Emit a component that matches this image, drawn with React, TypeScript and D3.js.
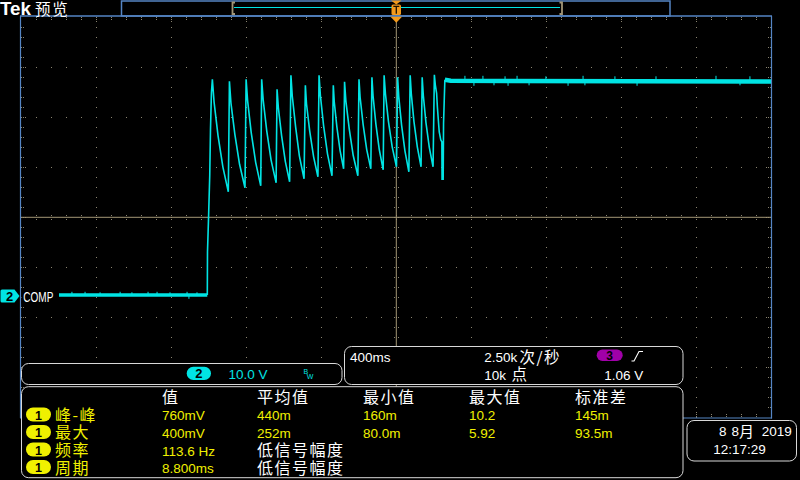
import React from 'react';
import * as d3 from 'd3';

// ---- data (time in ms, channel 2 in volts) ----
const baseline: [number, number][] = [[-1799, 0.46], [-1008, 0.46]];
const baseSpikes: [number, number][] = [
  [-1730, 1.1], [-1660, 1.1], [-1580, 1.0], [-1473, 1.1], [-1410, 1.0], [-1324, 1.1],
  [-1276, 1.1], [-1207, 1.0], [-1116, 1.1], [-1106, -0.3], [-1063, 1.0],
];
const stepEdge: [number, number][] = [
  [-1008, 0.46], [-1007, 9.1], [-1002, 15.1], [-995, 24.3], [-991, 33.5], [-986, 40.9],
];
const sawtooth: [number, number][] = [
  [-981, 43.6], [-972, 39.1], [-951, 32.4], [-925, 26.1], [-896, 21.1],
  [-890, 43.2], [-882, 38.9], [-861, 32.6], [-836, 26.6], [-807, 21.9],
  [-801, 43.6], [-793, 39.3], [-774, 33.0], [-750, 27.0], [-723, 22.3],
  [-718, 43.6], [-710, 39.5], [-691, 33.3], [-668, 27.5], [-641, 22.9],
  [-636, 41.6], [-629, 37.9], [-612, 32.4], [-592, 27.2], [-569, 23.1],
  [-562, 44.4], [-555, 40.3], [-537, 34.1], [-517, 28.3], [-492, 23.7],
  [-485, 42.4], [-479, 38.7], [-462, 33.3], [-441, 28.1], [-418, 24.1],
  [-412, 44.4], [-405, 40.4], [-388, 34.4], [-367, 28.7], [-343, 24.3],
  [-336, 42.4], [-331, 39.1], [-317, 34.1], [-300, 29.4], [-281, 25.7],
  [-276, 43.1], [-269, 39.3], [-251, 33.7], [-230, 28.4], [-205, 24.3],
  [-199, 43.6], [-193, 40.0], [-177, 34.6], [-158, 29.6], [-136, 25.7],
  [-130, 44.0], [-124, 40.3], [-109, 34.7], [-91, 29.6], [-70, 25.5],
  [-65, 44.4], [-58, 40.7], [-42, 35.2], [-22, 30.1], [1, 26.1],
  [7, 44.0], [13, 40.2], [28, 34.5], [46, 29.3], [67, 25.1],
  [74, 44.4], [80, 40.7], [94, 35.2], [112, 30.1], [132, 26.1],
  [138, 44.0], [144, 40.4], [158, 35.0], [176, 30.0], [196, 26.1],
  [203, 44.5], [208, 42.5], [215, 40.8], [219, 38.1], [226, 34.5], [229, 33.1],
  [237, 31.5], [243, 31.1], [244, 23.6], [250, 23.6], [252, 34.8], [259, 43.5],
];
const highLevel: [number, number][] = [[259, 43.5], [290, 43.3], [2000, 43.16]];
const highSpikes: [number, number][] = [
  [366, 44.3], [414, 42.3], [462, 44.3], [521, 42.4], [580, 44.2], [596, 42.3],
  [644, 44.3], [708, 42.4], [798, 44.2], [916, 42.3], [996, 44.3], [1006, 42.4],
  [1166, 44.2], [1284, 42.3], [1385, 44.2], [1705, 44.3], [1833, 42.4], [1886, 44.2],
];

// ---- readouts ----
const measHeaders = ['值', '平均值', '最小值', '最大值', '标准差'];
const measLabels = ['峰-峰', '最大', '频率', '周期'];
const measValues: string[][] = [
  ['760mV', '440m', '160m', '10.2', '145m'],
  ['400mV', '252m', '80.0m', '5.92', '93.5m'],
  ['113.6 Hz', '低信号幅度'],
  ['8.800ms', '低信号幅度'],
];
const chScale = '10.0 V';
const timeScale = '400ms';
const sampleRate = '2.50k';
const recordLen = '10k';
const trigLevel = '1.06 V';
const dateDay = '8';
const dateMonth = '8';
const dateYear = '2019';
const timeOfDay = '12:17:29';

const LAT = "'Liberation Sans', Arial, sans-serif";
const CJK = "'Noto Sans CJK SC', 'Noto Sans CJK JP', sans-serif";
const CYAN = '#00e4e4';
const YEL = '#f0f000';
const BLUE = '#5585c4';
const DOT = '#8a8470';
const TAN = '#a39676';
const PANEL = '#d8d8d8';

const xScale = d3.scaleLinear().domain([-2000, 2000]).range([21.3, 771.3]);
const yScale = d3.scaleLinear().domain([-24, 56]).range([417.3, 17.3]);
const line = d3.line<[number, number]>().x(d => xScale(d[0])).y(d => yScale(d[1]));

const xMinor = d3.range(0, 51).map(i => -2000 + 80 * i);
const yMinor = d3.range(0, 41).map(i => -24 + 2 * i);

function isCJK(s: string) {
  return /[\u3400-\u9fff]/.test(s);
}

function Txt(p: { x: number; y: number; s: string; fill?: string; size?: number; anchor?: string; weight?: string | number; len?: number }) {
  const cjk = isCJK(p.s);
  return (
    <text
      x={p.x}
      y={p.y}
      fill={p.fill || '#fff'}
      fontFamily={cjk ? CJK : LAT}
      fontSize={p.size || (cjk ? 16 : 13.5)}
      letterSpacing={cjk ? 1.5 : 0}
      textAnchor={p.anchor || 'start'}
      fontWeight={p.weight || 'normal'}
      textLength={p.len}
      lengthAdjust={p.len ? 'spacingAndGlyphs' : undefined}
    >
      {p.s}
    </text>
  );
}

export default function App() {
  const dots: JSX.Element[] = [];
  d3.range(1, 10).forEach(i => {
    if (i === 5) return;
    const x = Math.floor(xScale(-2000 + 400 * i));
    yMinor.forEach((v, k) => {
      dots.push(<rect key={`v${i}-${k}`} x={x} y={Math.floor(yScale(v))} width={1} height={1} fill={DOT} />);
    });
  });
  d3.range(1, 8).forEach(j => {
    if (j === 4) return;
    const y = Math.floor(yScale(-24 + 10 * j));
    xMinor.forEach((t, k) => {
      dots.push(<rect key={`h${j}-${k}`} x={Math.floor(xScale(t))} y={y} width={1} height={1} fill={DOT} />);
    });
  });
  xMinor.forEach((t, k) => {
    if (k === 0 || k === 50) return;
    const x = Math.floor(xScale(t));
    const major = k % 5 === 0;
    const offs = major ? [1, 3, 5] : [1, 3];
    offs.forEach(o => {
      dots.push(<rect key={`tt${k}-${o}`} x={x} y={16 + o} width={1} height={1} fill={DOT} />);
      dots.push(<rect key={`tb${k}-${o}`} x={x} y={417 - o} width={1} height={1} fill={DOT} />);
    });
    const cy = Math.floor(yScale(16));
    dots.push(<rect key={`ct${k}`} x={x} y={cy - 2} width={1} height={1} fill={DOT} />);
    dots.push(<rect key={`cb${k}`} x={x} y={cy + 2} width={1} height={1} fill={DOT} />);
  });
  yMinor.forEach((v, k) => {
    if (k === 0 || k === 40) return;
    const y = Math.floor(yScale(v));
    const major = k % 5 === 0;
    const offs = major ? [1, 3, 5] : [1, 3];
    offs.forEach(o => {
      dots.push(<rect key={`tl${k}-${o}`} x={20 + o} y={y} width={1} height={1} fill={DOT} />);
      dots.push(<rect key={`tr${k}-${o}`} x={771 - o} y={y} width={1} height={1} fill={DOT} />);
    });
    const cx = Math.floor(xScale(0));
    dots.push(<rect key={`cl${k}`} x={cx - 2} y={y} width={1} height={1} fill={DOT} />);
    dots.push(<rect key={`cr${k}`} x={cx + 2} y={y} width={1} height={1} fill={DOT} />);
  });

  const colX = [162, 257, 363, 469, 575];
  const rowBase = [420, 437.5, 455.5, 473];
  const pillTop = [407.5, 425, 442.5, 460];
  const cx0 = xScale(0);
  const cy0 = yScale(16);

  return (
    <svg width={800} height={480} style={{ position: 'absolute', left: 0, top: 0, background: '#000' }}>
      <rect x={0} y={0} width={800} height={480} fill="#000" />
      {dots}
      <line x1={cx0} x2={cx0} y1={22} y2={418} stroke={TAN} strokeWidth={1} />
      <line x1={20} x2={771} y1={cy0} y2={cy0} stroke={TAN} strokeWidth={1} />

      <path d={line(baseline) || ''} stroke={CYAN} strokeWidth={3.5} fill="none" />
      {baseSpikes.map((d, i) => (
        <line key={`bs${i}`} x1={xScale(d[0])} x2={xScale(d[0])} y1={yScale(baseline[0][1])} y2={yScale(d[1])} stroke={CYAN} strokeWidth={1} />
      ))}
      <path d={line([...stepEdge, ...sawtooth]) || ''} stroke={CYAN} strokeWidth={1.6} fill="none" strokeLinejoin="miter" />
      <path d={line(highLevel) || ''} stroke={CYAN} strokeWidth={4.5} fill="none" />
      {highSpikes.map((d, i) => (
        <line key={`hs${i}`} x1={xScale(d[0])} x2={xScale(d[0])} y1={yScale(43.16)} y2={yScale(d[1])} stroke={CYAN} strokeWidth={1} />
      ))}

      <line x1={20.5} x2={20.5} y1={16} y2={418} stroke={BLUE} strokeWidth={1.2} />
      <line x1={771.5} x2={771.5} y1={16} y2={418.5} stroke={BLUE} strokeWidth={1.2} />
      <line x1={20} x2={772} y1={16} y2={16} stroke={BLUE} strokeWidth={1.5} />
      <line x1={20} x2={772} y1={418} y2={418} stroke={BLUE} strokeWidth={1.2} />

      <text x={0} y={14.5} fill="#fff" fontFamily={LAT} fontWeight="bold" fontSize={18} textLength={31} lengthAdjust="spacingAndGlyphs">Tek</text>
      <text x={35} y={14.5} fill="#fff" fontFamily={CJK} fontSize={15.5} letterSpacing={1.8}>预览</text>
      <rect x={121.5} y={1} width={548.5} height={15} fill="none" stroke={BLUE} strokeWidth={1.5} />
      <line x1={234} x2={560} y1={7.5} y2={7.5} stroke={CYAN} strokeWidth={1} />
      <path d="M235,2.5 L232.5,2.5 L232.5,14 L235,14" stroke={TAN} strokeWidth={1.8} fill="none" />
      <path d="M559.5,2.5 L562,2.5 L562,14 L559.5,14" stroke={TAN} strokeWidth={1.8} fill="none" />
      <path d="M391,0.5 L401.5,0.5 L396.3,4.5 Z" fill="#f39a1c" />
      <rect x={391.5} y={4.5} width={9.5} height={10.5} rx={1.5} fill="#f39a1c" />
      <path d="M393.3,6.3 L399.3,6.3 M396.3,6.3 L396.3,13.8" stroke="#1a1000" strokeWidth={1.3} fill="none" />
      <path d="M390.5,16.8 L402,16.8 L396.3,22.8 Z" fill="#f39a1c" />

      <path d="M2,289.5 L14.5,289.5 L19.5,296 L14.5,302.5 L2,302.5 Q0.5,302.5 0.5,301 L0.5,291 Q0.5,289.5 2,289.5 Z" fill={CYAN} />
      <text x={9.5} y={301} fill="#000" fontFamily={LAT} fontWeight="bold" fontSize={13} textAnchor="middle">2</text>
      <rect x={21.5} y={288} width={35} height={16} fill="#000" />
      <text x={23.3} y={301.7} fill="#fff" fontFamily={LAT} fontSize={15} textLength={30} lengthAdjust="spacingAndGlyphs">COMP</text>

      <rect x={21.5} y={363.5} width={320.5} height={21} rx={7} fill="#000" stroke={PANEL} strokeWidth={1} />
      <rect x={186.7} y={366.7} width={24.3} height={13.3} rx={6.6} fill={CYAN} />
      <text x={198.9} y={378.3} fill="#000" fontFamily={LAT} fontWeight="bold" fontSize={13} textAnchor="middle">2</text>
      <Txt x={228.5} y={378.5} s={chScale} fill={CYAN} />
      <text x={303.5} y={374} fill={CYAN} fontFamily={LAT} fontSize={7}>B</text>
      <text x={306.8} y={378.5} fill={CYAN} fontFamily={LAT} fontSize={7}>W</text>

      <rect x={344.5} y={346.5} width={338.5} height={38} rx={7} fill="#000" stroke={PANEL} strokeWidth={1} />
      <Txt x={350} y={362} s={timeScale} />
      <Txt x={484.3} y={362} s={sampleRate} />
      <Txt x={519.5} y={362.5} s="次/秒" size={15.5} />
      <Txt x={484.3} y={379.5} s={recordLen} />
      <Txt x={511.5} y={380} s="点" size={15.5} />
      <rect x={596.7} y={349.5} width={26} height={11.5} rx={5.7} fill="#a000a8" />
      <text x={609.7} y={359.8} fill="#000" fontFamily={LAT} fontWeight="bold" fontSize={12} textAnchor="middle">3</text>
      <path d="M631.5,361 L634,361 L639,351.5 L643,351.5" stroke="#fff" strokeWidth={1.1} fill="none" />
      <Txt x={604.3} y={379.5} s={trigLevel} />

      <rect x={21.5} y={386.7} width={661.5} height={91} rx={7} fill="#000" stroke={PANEL} strokeWidth={1} />
      {measHeaders.map((h, i) => (
        <Txt key={`mh${i}`} x={colX[i]} y={403} s={h} />
      ))}
      {measLabels.map((lab, r) => (
        <g key={`mr${r}`}>
          <rect x={26} y={pillTop[r]} width={25} height={14} rx={7} fill={YEL} />
          <text x={38.5} y={pillTop[r] + 12} fill="#000" fontFamily={LAT} fontWeight="bold" fontSize={12.5} textAnchor="middle">1</text>
          <Txt x={55} y={rowBase[r] + 0.5} s={lab} fill={YEL} />
          {measValues[r].map((v, c) => (
            <Txt key={`mv${r}-${c}`} x={colX[c]} y={rowBase[r] + (isCJK(v) ? 0.5 : 0)} s={v} fill={isCJK(v) ? '#fff' : YEL} />
          ))}
        </g>
      ))}

      <rect x={687} y={420.5} width={109.5} height={40.5} rx={7} fill="#000" stroke={PANEL} strokeWidth={1} />
      <Txt x={719} y={435.5} s={dateDay} />
      <Txt x={731.5} y={435.5} s={dateMonth} />
      <Txt x={739} y={436.5} s="月" size={15} />
      <Txt x={761.7} y={435.5} s={dateYear} />
      <Txt x={713.3} y={453.5} s={timeOfDay} />
    </svg>
  );
}
